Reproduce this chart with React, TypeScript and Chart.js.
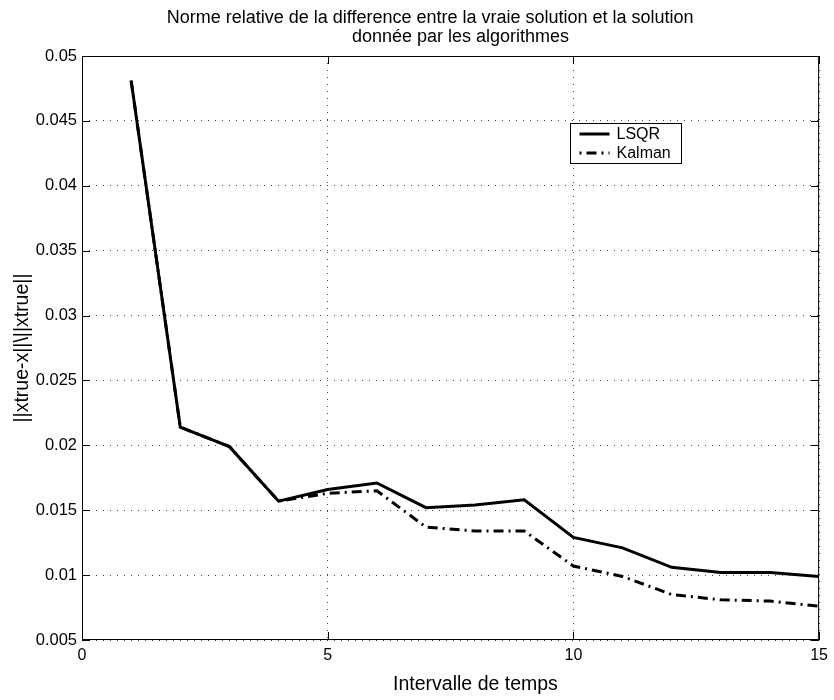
import { useEffect, useRef } from "react";
import { Chart, registerables } from "chart.js";

Chart.register(...registerables);

const titleLines = [
  "Norme relative de la difference entre la vraie solution et la solution",
  "donnée par les algorithmes",
];
const xAxisTitle = "Intervalle de temps";
const yAxisTitle = "||xtrue-x||\\||xtrue||";

const intervals = [1, 2, 3, 4, 5, 6, 7, 8, 9, 10, 11, 12, 13, 14, 15];
const lsqrValues = [
  0.0481, 0.0214, 0.0199, 0.0157, 0.0166, 0.0171, 0.0152, 0.0154, 0.0158,
  0.0129, 0.0121, 0.0106, 0.0102, 0.0102, 0.0099,
];
const kalmanValues = [
  0.0481, 0.0214, 0.0199, 0.0157, 0.0163, 0.0165, 0.0137, 0.0134, 0.0134,
  0.0107, 0.0099, 0.0085, 0.0081, 0.008, 0.0076,
];
const seriesNames = ["LSQR", "Kalman"];

const xTickValues = [0, 5, 10, 15];
const xTickLabels = ["0", "5", "10", "15"];
const yTickValues = [
  0.005, 0.01, 0.015, 0.02, 0.025, 0.03, 0.035, 0.04, 0.045, 0.05,
];
const yTickLabels = [
  "0.005", "0.01", "0.015", "0.02", "0.025", "0.03", "0.035", "0.04", "0.045", "0.05",
];

const FONT = "'Liberation Sans', Arial, Helvetica, sans-serif";
const KALMAN_DASH = [10, 5, 2, 5];

const decorPlugin = {
  id: "matlabDecor",
  afterDatasetsDraw(chart: any) {
    const { ctx, chartArea } = chart;
    const { left, right, top, bottom } = chartArea;
    const xs = chart.scales.x;
    const ys = chart.scales.y;
    ctx.save();
    // frame
    ctx.strokeStyle = "#000";
    ctx.lineWidth = 1;
    ctx.setLineDash([]);
    ctx.strokeRect(left + 0.5, top + 0.5, right - left - 1, bottom - top - 1);
    // inward ticks on all sides
    const tl = 8;
    ctx.beginPath();
    xTickValues.forEach((v) => {
      const px = Math.round(xs.getPixelForValue(v)) + 0.5;
      ctx.moveTo(px, bottom);
      ctx.lineTo(px, bottom - tl);
      ctx.moveTo(px, top);
      ctx.lineTo(px, top + tl);
    });
    yTickValues.forEach((v) => {
      const py = Math.round(ys.getPixelForValue(v)) + 0.5;
      ctx.moveTo(left, py);
      ctx.lineTo(left + tl, py);
      ctx.moveTo(right, py);
      ctx.lineTo(right - tl, py);
    });
    ctx.stroke();

    // legend
    const w = right - left;
    const h = bottom - top;
    const bx = Math.round(left + w * 0.662) + 0.5;
    const by = Math.round(top + h * 0.114) + 0.5;
    const bw = 111;
    const bh = 40;
    ctx.fillStyle = "#fff";
    ctx.fillRect(bx, by, bw, bh);
    ctx.strokeStyle = "#000";
    ctx.lineWidth = 1;
    ctx.strokeRect(bx, by, bw, bh);
    ctx.font = `16px ${FONT}`;
    ctx.textBaseline = "middle";
    ctx.textAlign = "left";
    chart.data.datasets.forEach((ds: any, i: number) => {
      const ly = by + 10.5 + i * 19;
      ctx.strokeStyle = ds.borderColor;
      ctx.lineWidth = ds.borderWidth;
      ctx.setLineDash(ds.borderDash || []);
      ctx.lineDashOffset = ds.borderDash ? 15 : 0;
      ctx.beginPath();
      ctx.moveTo(bx + 9, ly);
      ctx.lineTo(bx + 39, ly);
      ctx.stroke();
      ctx.setLineDash([]);
      ctx.fillStyle = "#000";
      ctx.fillText(ds.label, bx + 46, ly + 1);
    });

    // title
    ctx.fillStyle = "#000";
    ctx.textAlign = "center";
    ctx.textBaseline = "alphabetic";
    ctx.font = `18px ${FONT}`;
    ctx.fillText(titleLines[0], left + w * 0.4723, 22.5);
    ctx.fillText(titleLines[1], left + w * 0.5135, 42);

    // x axis title
    ctx.font = `19.5px ${FONT}`;
    ctx.fillText(xAxisTitle, left + w * 0.5338, 690);

    // y axis title
    ctx.save();
    ctx.translate(28, top + h / 2);
    ctx.rotate(-Math.PI / 2);
    ctx.fillText(yAxisTitle, 0, 0);
    ctx.restore();

    ctx.restore();
  },
};

export default function App() {
  const ref = useRef<HTMLCanvasElement | null>(null);

  useEffect(() => {
    if (!ref.current) return;
    const chart = new Chart(ref.current, {
      type: "line",
      data: {
        datasets: [
          {
            label: seriesNames[0],
            data: intervals.map((x, i) => ({ x, y: lsqrValues[i] })),
            borderColor: "#000",
            borderWidth: 3,
            pointRadius: 0,
            tension: 0,
            fill: false,
          },
          {
            label: seriesNames[1],
            data: intervals.map((x, i) => ({ x, y: kalmanValues[i] })),
            borderColor: "#000",
            borderWidth: 3,
            borderDash: KALMAN_DASH,
            pointRadius: 0,
            tension: 0,
            fill: false,
          },
        ],
      },
      options: {
        responsive: false,
        animation: false,
        layout: { padding: { left: 0, right: 12, top: 56, bottom: 0 } },
        plugins: {
          legend: { display: false },
          title: { display: false },
          tooltip: { enabled: false },
        },
        scales: {
          x: {
            type: "linear",
            min: 0,
            max: 15,
            afterBuildTicks: (s: any) => {
              s.ticks = xTickValues.map((v) => ({ value: v }));
            },
            afterFit: (s: any) => {
              s.height = 60;
            },
            ticks: {
              autoSkip: false,
              maxRotation: 0,
              padding: 6,
              color: "#000",
              font: { family: FONT, size: 16 },
              callback: (_v: any, i: number) => xTickLabels[i],
            },
            grid: {
              color: "#444",
              lineWidth: 1,
              drawTicks: false,
            },
            border: { display: false, dash: [1, 6] },
          },
          y: {
            type: "linear",
            min: 0.005,
            max: 0.05,
            afterBuildTicks: (s: any) => {
              s.ticks = yTickValues.map((v) => ({ value: v }));
            },
            afterFit: (s: any) => {
              s.width = 82;
            },
            ticks: {
              autoSkip: false,
              padding: 5,
              color: "#000",
              font: { family: FONT, size: 16.5 },
              callback: (_v: any, i: number) => yTickLabels[i],
            },
            grid: {
              color: "#444",
              lineWidth: 1,
              drawTicks: false,
            },
            border: { display: false, dash: [1, 6] },
          },
        },
      },
      plugins: [decorPlugin],
    });
    return () => chart.destroy();
  }, []);

  return (
    <div style={{ position: "absolute", left: 0, top: 0, width: 834, height: 700, background: "#fff" }}>
      <canvas ref={ref} width={834} height={700} style={{ display: "block" }} />
    </div>
  );
}
